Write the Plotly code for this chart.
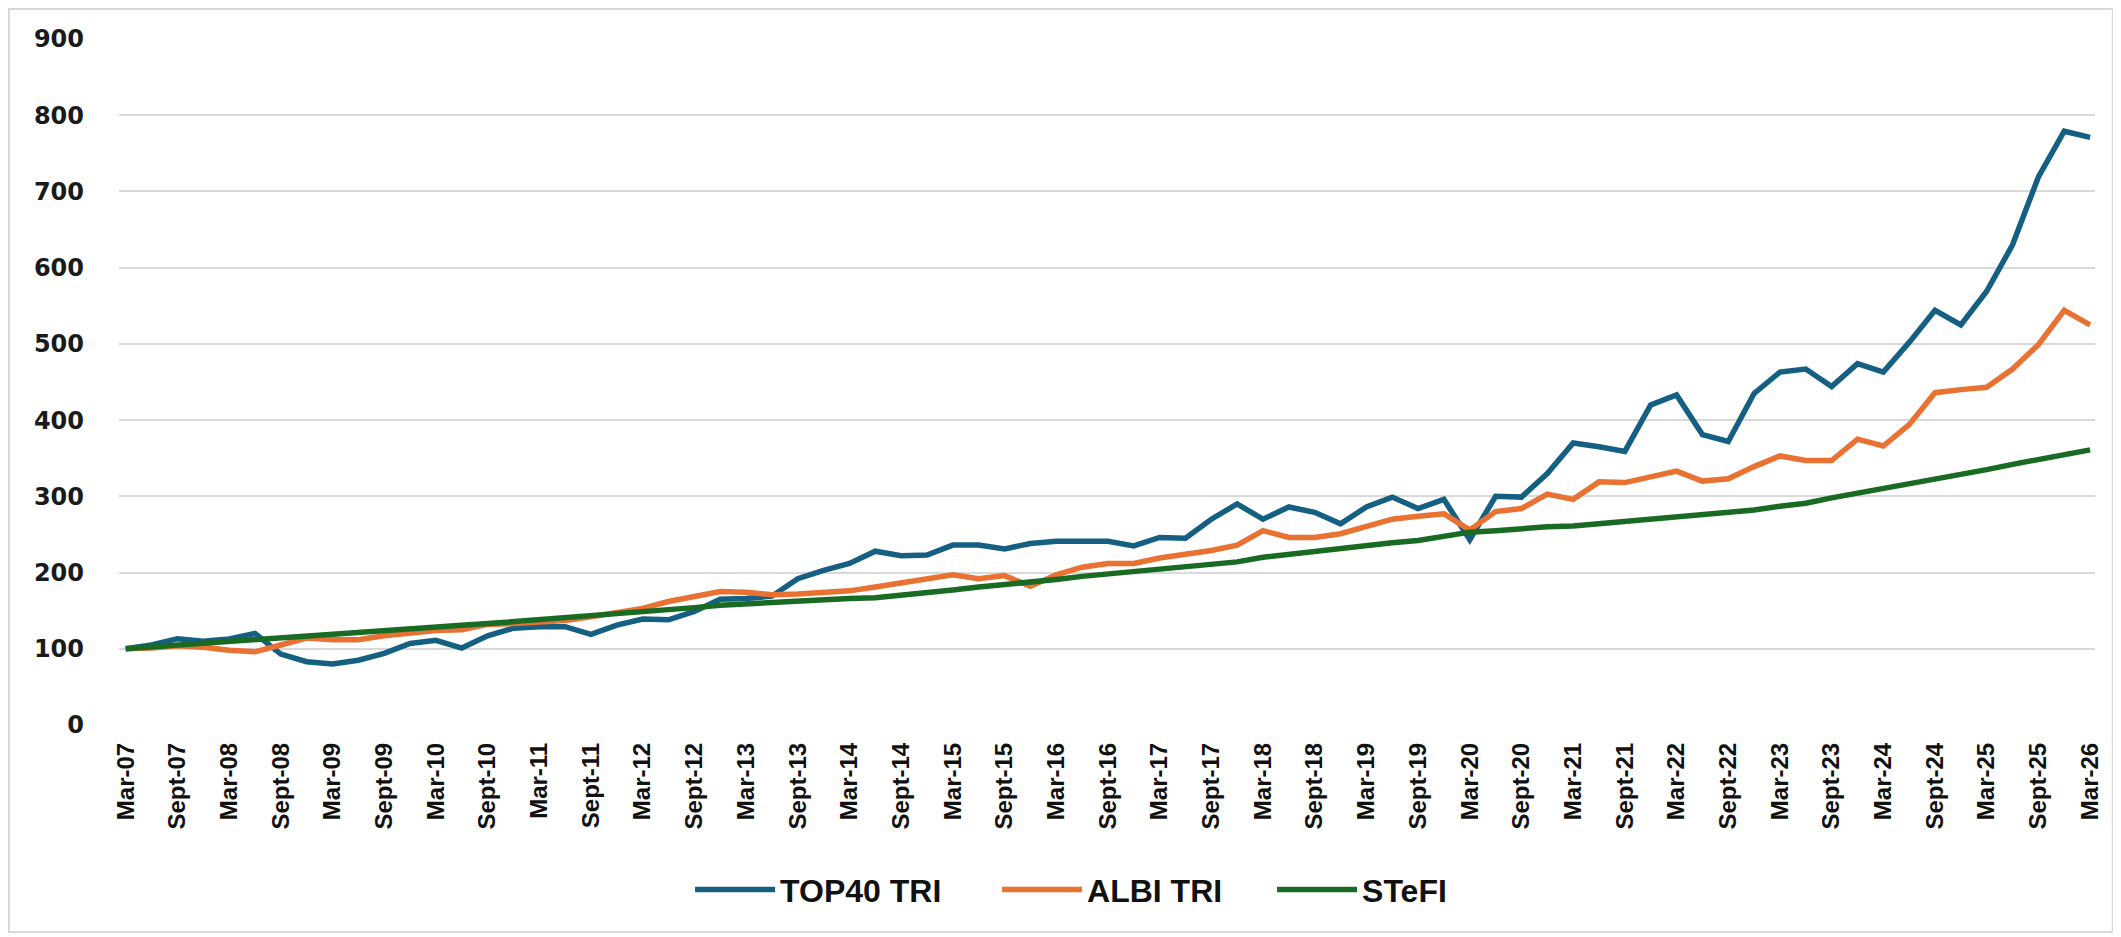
import plotly.graph_objects as go

# quarterly index levels, Mar-07 = 100
months = ["Mar", "Jun", "Sept", "Dec"]
years = [f"{y:02d}" for y in range(7, 27)]
quarters = [f"{m}-{y}" for y in years for m in months][:77]

top40_tri = [100, 105, 113, 110, 113, 120, 93, 83, 80, 85, 94, 107, 111, 101, 117, 127,
             129, 129, 119, 131, 139, 138, 149, 165, 166, 169, 192, 203, 212, 228, 222, 223,
             236, 236, 231, 238, 241, 241, 241, 235, 246, 245, 270, 290, 270, 286, 279, 264,
             286, 299, 284, 296, 243, 300, 299, 330, 370, 365, 359, 420, 433, 381, 372, 435,
             463, 467, 444, 474, 463, 502, 544, 525, 569, 630, 719, 779, 771]

albi_tri = [100, 101, 104, 102, 98, 96, 105, 114, 112, 112, 117, 120, 124, 125, 132, 133,
            135, 137, 142, 147, 153, 162, 168, 175, 174, 171, 172, 174, 176, 181, 186, 192,
            197, 192, 196, 182, 197, 207, 212, 212, 219, 224, 229, 236, 255, 246, 246, 251,
            260, 270, 274, 277, 256, 280, 284, 303, 296, 319, 318, 326, 333, 320, 323, 339,
            353, 347, 347, 375, 366, 394, 436, 440, 443, 467, 499, 544, 525]

stefi = [100, 102.5, 105, 107.5, 110, 112.5, 115, 117.5, 120, 122, 124.5, 127, 129, 131, 133, 135.5,
         138, 140, 142.5, 145, 148, 151, 154, 157, 159, 161, 162, 164, 166, 167, 170, 174,
         177, 181, 184, 188, 191, 195, 198, 201, 204, 208, 211, 214, 220, 224, 227, 231,
         235, 239, 242, 248, 253, 255, 258, 260, 261, 264, 266, 269, 272, 275, 278, 282,
         287, 291, 298, 304, 310, 316, 323, 329, 335, 342, 348, 355, 361]

tick_labels = [q for q in quarters if q.startswith("Mar") or q.startswith("Sept")]

series = [
    ("TOP40 TRI", top40_tri, "#156082", 212),
    ("ALBI TRI", albi_tri, "#E97132", 180),
    ("STeFI", stefi, "#196B24", 120),
]

fig = go.Figure()
for name, vals, col, lw in series:
    fig.add_trace(go.Scatter(x=quarters, y=vals, name=name, mode="lines",
                             line=dict(color=col, width=5.5), legendwidth=lw))

# page body has an 8px margin, so the figure is a little smaller than the window
fig.update_layout(
    width=2113, height=929,
    margin=dict(l=111, r=26, t=31, b=212),
    paper_bgcolor="white", plot_bgcolor="white",
    font=dict(family="Liberation Sans", color="#1a1a1a"),
    showlegend=True,
    legend=dict(orientation="h", x=0.289, xanchor="left", y=-0.24, yanchor="middle",
                font=dict(family="Liberation Sans", size=32, color="#111111", weight="bold"),
                itemwidth=80, traceorder="normal"),
    shapes=[dict(type="rect", xref="paper", yref="paper", x0=-0.0557, x1=1.009,
                 y0=-0.3017, y1=1.0437, line=dict(color="#d9d9d9", width=2), layer="below")],
)

fig.update_xaxes(
    type="category", range=[-0.26, 76.19],
    tickmode="array", tickvals=tick_labels, ticktext=tick_labels,
    tickangle=-90, ticks="", showgrid=False, zeroline=False, showline=False,
    tickfont=dict(family="Liberation Sans", size=24, color="#111111", weight="bold"),
    ticklabelstandoff=12,
)
fig.update_yaxes(
    range=[0, 900], dtick=100, showgrid=True, gridcolor="#d9d9d9", gridwidth=2,
    zeroline=False, showline=False, ticks="",
    tickfont=dict(family="DejaVu Sans", size=24, color="#1a1a1a", weight="bold"),
    ticklabelstandoff=34,
)

fig.write_html("out.html")
